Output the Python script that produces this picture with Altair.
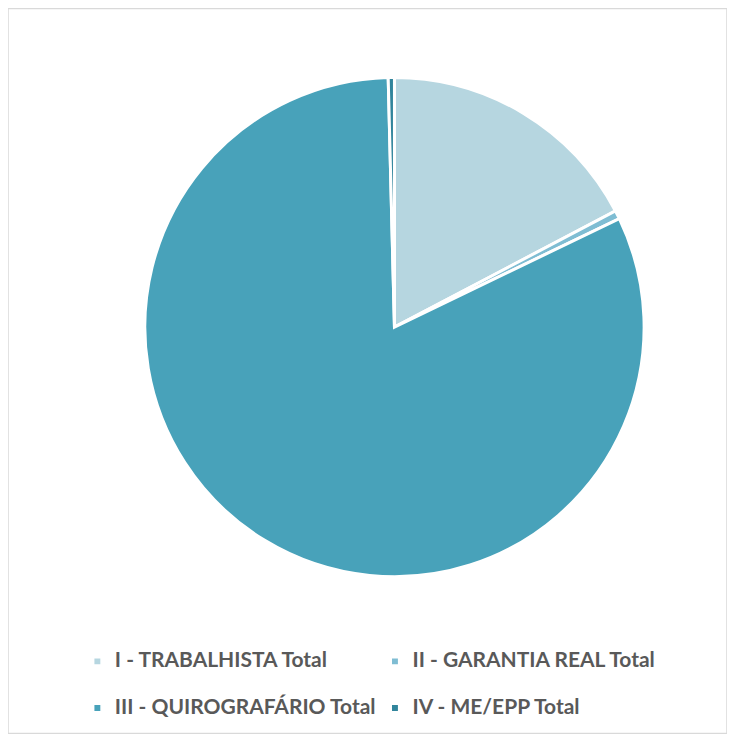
import altair as alt
import pandas as pd

categories = ["I - TRABALHISTA Total", "II - GARANTIA REAL Total",
              "III - QUIROGRAFÁRIO Total", "IV - ME/EPP Total"]
values = [17.3, 0.55, 81.75, 0.4]
colors = ["#b6d6e0", "#7fbdd3", "#48a2ba", "#31859c"]

df = pd.DataFrame({"cat": categories, "val": values, "ord": list(range(len(categories)))})

chart = alt.Chart(df).mark_arc(stroke="white", strokeWidth=3, outerRadius=250).encode(
    theta=alt.Theta("val:Q", stack=True),
    order=alt.Order("ord:Q"),
    color=alt.Color("cat:N", sort=categories,
                    scale=alt.Scale(domain=categories, range=colors),
                    legend=alt.Legend(title=None, orient="none", legendX=79, legendY=643,
                                      columns=2, direction="horizontal",
                                      symbolType="square", symbolSize=55,
                                      labelFont="Lato", labelFontWeight="bold", labelFontSize=21,
                                      labelColor="#595959", rowPadding=25, columnPadding=8,
                                      labelLimit=400, symbolOffset=0, labelOffset=7)),
    x=alt.value(387),
    y=alt.value(319),
).properties(width=720, height=726, padding=0).configure_view(
    stroke="#d9d9d9", strokeWidth=1.5
)

chart.save("out.html", embed_options={"renderer": "svg", "actions": False})
